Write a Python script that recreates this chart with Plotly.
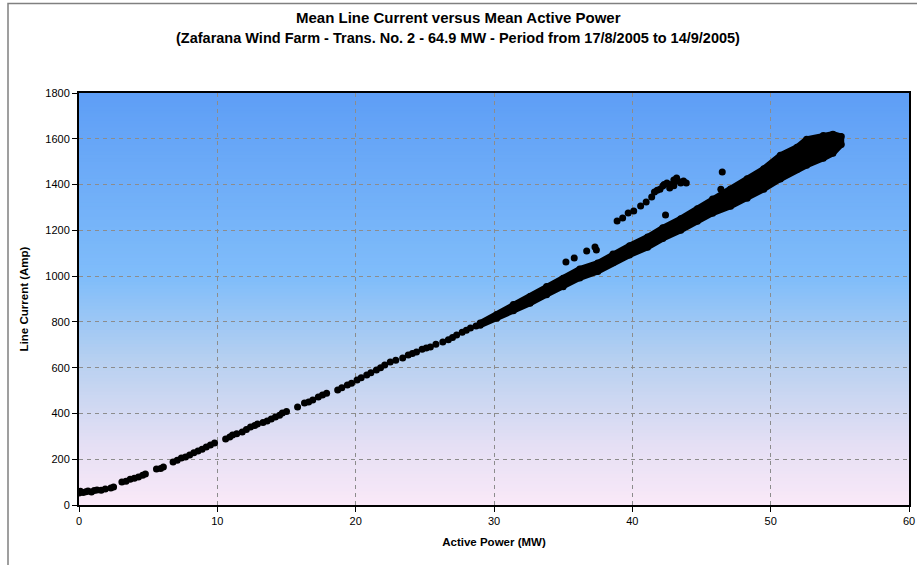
import plotly.graph_objects as go

# ---------------- data ----------------
# Sparse low-power part of the cloud (Active power MW, Line current A)
low_p = [0.0, 0.1, 0.3, 0.5, 0.65, 0.9, 1.1, 1.3, 1.6, 1.9, 2.3, 2.5, 3.1, 3.4, 3.7, 4.0, 4.3, 4.6, 4.8,
         5.6, 5.9, 6.1, 6.8, 7.1, 7.4, 7.7, 8.0, 8.3, 8.6, 8.9, 9.2, 9.5, 9.8,
         10.6, 10.9, 11.1, 11.4, 11.8, 12.1, 12.4, 12.7, 12.9, 13.3, 13.6, 13.9, 14.2, 14.5, 14.7, 15.0,
         15.8, 16.3, 16.6, 16.9, 17.3, 17.6, 17.9, 18.7, 19.0, 19.4, 19.7, 20.1, 20.4, 20.8, 21.1, 21.5,
         21.8, 22.1, 22.5, 22.9, 23.4, 23.8, 24.1, 24.4, 24.8, 25.1, 25.4, 25.8, 26.3, 26.7, 27.0, 27.3,
         27.7, 28.0, 28.3, 28.7]
low_i = [52, 60, 55, 58, 61, 57, 63, 66, 64, 70, 74, 79, 100, 104, 113, 117, 122, 130, 135,
         157, 160, 166, 188, 196, 205, 210, 218, 228, 236, 244, 253, 262, 271,
         288, 297, 306, 311, 319, 330, 341, 347, 354, 360, 367, 376, 384, 392, 402, 408,
         428, 446, 450, 459, 472, 481, 488, 502, 512, 524, 532, 546, 556, 568, 578, 590,
         600, 612, 625, 632, 642, 655, 662, 668, 680, 686, 690, 702, 712, 722, 732, 743,
         755, 763, 773, 782]

# Dense band: lower and upper edges of the cloud
band_p = [29.0, 30.2, 31.4, 32.6, 33.8, 35.0, 36.2, 37.5, 38.6, 39.8, 41.1, 42.2, 43.5, 44.7,
          45.8, 47.1, 48.3, 49.5, 50.7, 51.9, 52.6, 53.8, 54.5, 55.1]
band_lo = [785, 816, 849, 881, 919, 954, 992, 1020, 1058, 1092, 1126, 1164, 1200, 1240,
           1275, 1305, 1340, 1380, 1424, 1466, 1484, 1515, 1537, 1575]
band_hi = [795, 832, 876, 911, 955, 991, 1031, 1057, 1097, 1133, 1171, 1211, 1251, 1294,
           1337, 1381, 1425, 1469, 1528, 1563, 1598, 1614, 1620, 1610]

# Upper branch / stray points
out_p = [35.2, 35.8, 36.7, 37.3, 37.4, 38.9, 39.3, 39.7, 40.1, 40.6, 41.0, 41.4, 41.6, 41.8,
         42.0, 42.2, 42.3, 42.5, 42.7, 42.8, 43.0, 43.0, 43.2, 43.3, 43.5, 43.7, 43.9, 42.4, 46.4, 46.5]
out_i = [1062, 1079, 1110, 1127, 1114, 1241, 1254, 1276, 1284, 1306, 1324, 1346, 1367, 1375,
         1380, 1394, 1400, 1407, 1385, 1400, 1420, 1395, 1429, 1415, 1407, 1415, 1407, 1267, 1380, 1455]

x_ticks = [0, 10, 20, 30, 40, 50, 60]
y_ticks = [0, 200, 400, 600, 800, 1000, 1200, 1400, 1600, 1800]

title_1 = "Mean Line Current versus Mean Active Power"
title_2 = "(Zafarana Wind Farm - Trans. No. 2 - 64.9 MW - Period from 17/8/2005 to 14/9/2005)"
x_title = "Active Power (MW)"
y_title = "Line Current (Amp)"

# ---------------- figure ----------------
FONT = "Liberation Sans, Arial, sans-serif"
fig = go.Figure()

# dense band as a filled outline
fig.add_trace(go.Scatter(
    x=band_p + band_p[::-1], y=band_lo + band_hi[::-1],
    mode="lines", fill="toself", fillcolor="black",
    line=dict(color="black", width=6), hoverinfo="skip", showlegend=False))
fig.add_trace(go.Scatter(x=band_p + band_p, y=band_lo + band_hi, mode="markers",
                         marker=dict(color="black", size=7), showlegend=False))
fig.add_trace(go.Scatter(x=low_p, y=low_i, mode="markers",
                         marker=dict(color="black", size=7), showlegend=False))
fig.add_trace(go.Scatter(x=out_p, y=out_i, mode="markers",
                         marker=dict(color="black", size=7), showlegend=False))

# gradient background built from thin strips
stops = [(0.0, (250, 233, 248)), (0.15, (228, 223, 244)), (0.35, (183, 208, 240)),
         (0.55, (128, 189, 250)), (1.0, (94, 158, 246))]
def col_at(t):
    for (t0, c0), (t1, c1) in zip(stops[:-1], stops[1:]):
        if t0 <= t <= t1:
            f = (t - t0) / (t1 - t0)
            return "rgb(%d,%d,%d)" % tuple(round(a + (b - a) * f) for a, b in zip(c0, c1))
    return "rgb(%d,%d,%d)" % stops[-1][1]
N = 120
shapes = []
for k in range(N):
    shapes.append(dict(type="rect", xref="x domain", yref="y domain", x0=0, x1=1,
                       y0=k / N, y1=(k + 1) / N + 0.002, line=dict(width=0),
                       fillcolor=col_at((k + 0.5) / N), layer="below"))
# outer chart border
shapes.append(dict(type="rect", xref="paper", yref="paper",
                   x0=(8 - 79) / 830, x1=1.02, y0=-0.3, y1=(505 - 3.5) / 412,
                   line=dict(color="#808080", width=1.5), layer="above"))
fig.update_layout(shapes=shapes)

fig.update_layout(
    width=917, height=565,
    margin=dict(l=79, r=8, t=93, b=60, autoexpand=False),
    paper_bgcolor="white", plot_bgcolor="rgba(0,0,0,0)",
    font=dict(family=FONT, size=11, color="black"),
    annotations=[
        dict(text="<b>%s</b>" % title_1, xref="paper", yref="paper", x=(458 - 79) / 830,
             y=(505 - 18) / 412, showarrow=False, font=dict(size=15), xanchor="center", yanchor="middle"),
        dict(text="<b>%s</b>" % title_2, xref="paper", yref="paper", x=(458 - 79) / 830,
             y=(505 - 38) / 412, showarrow=False, font=dict(size=14.5), xanchor="center", yanchor="middle"),
    ],
)
fig.update_xaxes(range=[0, 60], tickvals=x_ticks, ticktext=[str(v) for v in x_ticks],
                 showgrid=True, gridcolor="#8c8c8c", griddash="4px,4px", gridwidth=1,
                 ticks="outside", ticklen=5, tickcolor="black", automargin=False,
                 showline=True, linecolor="black", linewidth=2, mirror=True, zeroline=False,
                 title=dict(text="<b>%s</b>" % x_title, font=dict(size=11.5), standoff=12))
fig.update_yaxes(range=[0, 1800], tickvals=y_ticks, ticktext=[str(v) for v in y_ticks],
                 showgrid=True, gridcolor="#8c8c8c", griddash="4px,4px", gridwidth=1,
                 ticks="outside", ticklen=5, tickcolor="black", automargin=False,
                 showline=True, linecolor="black", linewidth=2, mirror=True, zeroline=False,
                 title=dict(text="<b>%s</b>" % y_title, font=dict(size=11.5), standoff=14))

fig.write_html("out.html", config={"displayModeBar": False},
               post_script="document.body.style.margin='0';")
